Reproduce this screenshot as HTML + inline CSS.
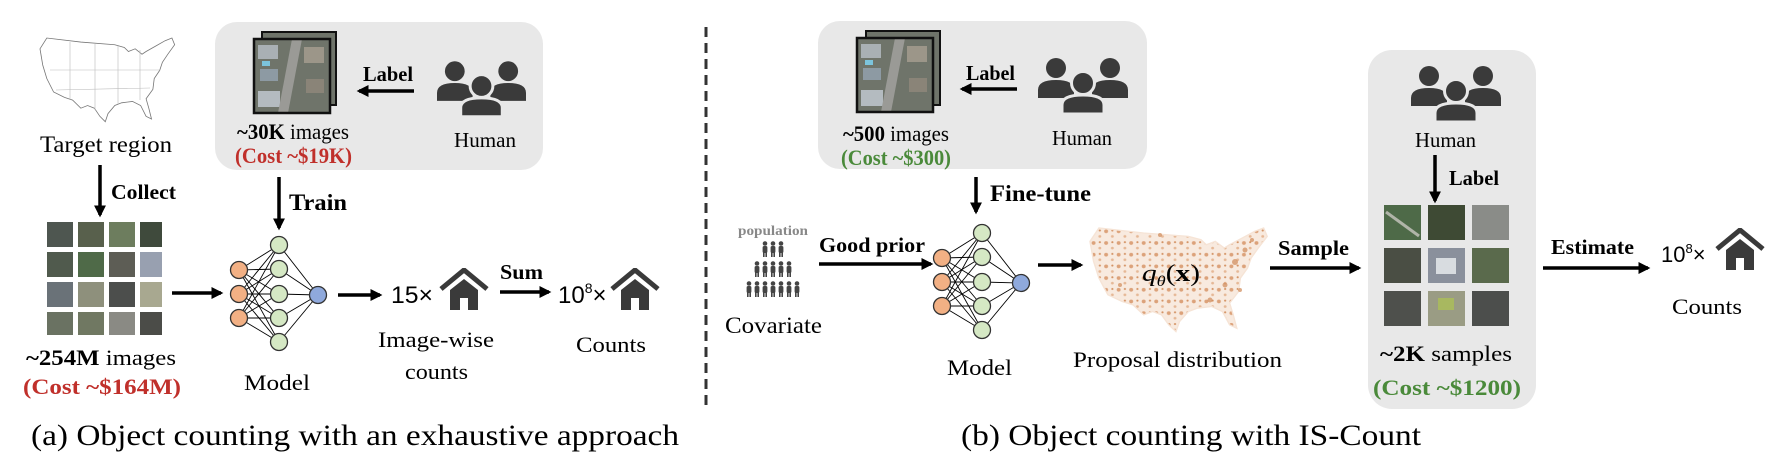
<!DOCTYPE html>
<html><head><meta charset="utf-8"><style>
html,body{margin:0;padding:0;background:#fff;}
svg{display:block;font-family:"Liberation Serif",serif;}
</style></head><body>
<svg width="1780" height="470" viewBox="0 0 1780 470" xmlns="http://www.w3.org/2000/svg">
<defs>
<marker id="ah" viewBox="0 0 10 10" refX="8" refY="5" markerWidth="3.4" markerHeight="3.4" orient="auto"><path d="M0,0 L10,5 L0,10 Z" fill="#000"/></marker>
<symbol id="human" viewBox="0 0 90 56">
<circle cx="18" cy="11" r="10" fill="#3a3a3a"/>
<circle cx="72" cy="11" r="10" fill="#3a3a3a"/>
<path d="M0,41 L0,33 Q0,23 18,23 Q36,23 36,33 L36,41 Z" fill="#3a3a3a"/>
<path d="M54,41 L54,33 Q54,23 72,23 Q90,23 90,33 L90,41 Z" fill="#3a3a3a"/>
<circle cx="45" cy="26" r="11.5" fill="#3a3a3a" stroke="#e8e8e8" stroke-width="3"/>
<path d="M24,57 L24,48 Q24,38 45,38 Q66,38 66,48 L66,57 Z" fill="#3a3a3a" stroke="#e8e8e8" stroke-width="3"/>
</symbol>
<symbol id="house" viewBox="0 0 50 42">
<polyline points="2,21 25,2 48,21" fill="none" stroke="#3a3a3a" stroke-width="5"/>
<path d="M11,22 L25,11 L39,22 V42 H29 V30 H21 V42 H11 Z" fill="#3a3a3a"/>
</symbol>
<g id="net">
<g stroke="#000" stroke-width="0.9">
<line x1="0" y1="-24" x2="40" y2="-49"/><line x1="0" y1="-24" x2="40" y2="-25"/><line x1="0" y1="-24" x2="40" y2="0"/><line x1="0" y1="-24" x2="40" y2="24"/><line x1="0" y1="-24" x2="40" y2="48"/>
<line x1="0" y1="0" x2="40" y2="-49"/><line x1="0" y1="0" x2="40" y2="-25"/><line x1="0" y1="0" x2="40" y2="0"/><line x1="0" y1="0" x2="40" y2="24"/><line x1="0" y1="0" x2="40" y2="48"/>
<line x1="0" y1="24" x2="40" y2="-49"/><line x1="0" y1="24" x2="40" y2="-25"/><line x1="0" y1="24" x2="40" y2="0"/><line x1="0" y1="24" x2="40" y2="24"/><line x1="0" y1="24" x2="40" y2="48"/>
<line x1="40" y1="-49" x2="79" y2="1"/><line x1="40" y1="-25" x2="79" y2="1"/><line x1="40" y1="0" x2="79" y2="1"/><line x1="40" y1="24" x2="79" y2="1"/><line x1="40" y1="48" x2="79" y2="1"/>
</g>
<g stroke="#333" stroke-width="1.3">
<circle cx="0" cy="-24" r="8.5" fill="#f2b084"/><circle cx="0" cy="0" r="8.5" fill="#f2b084"/><circle cx="0" cy="24" r="8.5" fill="#f2b084"/>
<circle cx="40" cy="-49" r="8.5" fill="#d5e8c4"/><circle cx="40" cy="-25" r="8.5" fill="#d5e8c4"/><circle cx="40" cy="0" r="8.5" fill="#d5e8c4"/><circle cx="40" cy="24" r="8.5" fill="#d5e8c4"/><circle cx="40" cy="48" r="8.5" fill="#d5e8c4"/>
<circle cx="79" cy="1" r="8.5" fill="#8fa9dc"/>
</g>
</g>
<g id="aerial">
<rect x="0" y="0" width="76" height="74" fill="#6f746a"/>
<rect x="4" y="6" width="20" height="14" fill="#a9b0b4"/>
<rect x="6" y="30" width="18" height="12" fill="#8d9aa3"/>
<rect x="4" y="52" width="22" height="16" fill="#b4bbc0"/>
<rect x="50" y="8" width="20" height="16" fill="#9c9689"/>
<rect x="52" y="40" width="18" height="14" fill="#8a8478"/>
<polygon points="38,0 48,0 34,74 24,74" fill="#9a9a96"/>
<rect x="8" y="22" width="8" height="5" fill="#7cc4dc"/>
</g>
<g id="us"><polygon points="0,8 5,0 30,3 55,5 62,7 65,10 70,8 75,12 78,10 85,6 92,2 97,0 99,5 94,12 90,18 88,24 84,30 83,38 78,45 80,52 82,60 78,58 74,50 68,47 60,48 55,50 50,56 48,62 44,58 40,52 35,50 30,52 24,46 18,44 10,40 5,30 2,20"/></g>
<pattern id="dots" width="7" height="7" patternUnits="userSpaceOnUse"><rect width="7" height="7" fill="#f8eadf"/><circle cx="2" cy="2" r="1.1" fill="#dca27a"/><circle cx="5.5" cy="5" r="0.8" fill="#e6b896"/><circle cx="5.5" cy="1.5" r="0.6" fill="#d49364"/></pattern>
<g id="person"><circle cx="3" cy="2.5" r="2.3" fill="#444"/><rect x="0.6" y="5" width="4.8" height="7" rx="1.5" fill="#444"/><rect x="1" y="11" width="1.6" height="5" fill="#444"/><rect x="3.4" y="11" width="1.6" height="5" fill="#444"/></g>
</defs>

<!-- ===== LEFT (a) ===== -->
<g transform="translate(40,38) scale(1.36,1.35)"><use href="#us" fill="#fff" stroke="#777" stroke-width="0.6"/></g>
<g stroke="#bbb" stroke-width="0.6" fill="none">
<line x1="70" y1="42" x2="70" y2="100"/><line x1="95" y1="44" x2="95" y2="110"/><line x1="118" y1="46" x2="118" y2="104"/><line x1="50" y1="70" x2="160" y2="70"/><line x1="56" y1="90" x2="150" y2="88"/><line x1="140" y1="50" x2="140" y2="100"/>
</g>
<text x="40" y="152" font-size="23" textLength="132" lengthAdjust="spacingAndGlyphs">Target region</text>
<line x1="100" y1="165" x2="100" y2="215" stroke="#000" stroke-width="3.5" marker-end="url(#ah)"/>
<text x="111" y="199" font-size="21" font-weight="bold" textLength="65" lengthAdjust="spacingAndGlyphs">Collect</text>
<g>
<rect x="47" y="222" width="26" height="25" fill="#4e5650"/><rect x="78" y="222" width="26" height="25" fill="#58604c"/><rect x="109" y="222" width="26" height="25" fill="#6d7d5e"/><rect x="140" y="222" width="22" height="25" fill="#3f4a3c"/>
<rect x="47" y="252" width="26" height="25" fill="#505a4d"/><rect x="78" y="252" width="26" height="25" fill="#4f6a48"/><rect x="109" y="252" width="26" height="25" fill="#5d5d55"/><rect x="140" y="252" width="22" height="25" fill="#98a0b0"/>
<rect x="47" y="282" width="26" height="25" fill="#6a7278"/><rect x="78" y="282" width="26" height="25" fill="#8e907c"/><rect x="109" y="282" width="26" height="25" fill="#4c4e4c"/><rect x="140" y="282" width="22" height="25" fill="#a8a890"/>
<rect x="47" y="312" width="26" height="23" fill="#6a7262"/><rect x="78" y="312" width="26" height="23" fill="#707862"/><rect x="109" y="312" width="26" height="23" fill="#8a8a84"/><rect x="140" y="312" width="22" height="23" fill="#4b4c48"/>
</g>
<text x="26" y="365" font-size="22" textLength="150" lengthAdjust="spacingAndGlyphs"><tspan font-weight="bold">~254M</tspan> images</text>
<text x="23" y="394" font-size="22" font-weight="bold" fill="#c0302b" textLength="158" lengthAdjust="spacingAndGlyphs">(Cost ~$164M)</text>

<rect x="215" y="22" width="328" height="148" rx="22" fill="#e8e8e8"/>
<rect x="262" y="32" width="74" height="73" fill="#6f746a" stroke="#111" stroke-width="2"/>
<g transform="translate(254,39)"><use href="#aerial"/><rect x="0" y="0" width="76" height="74" fill="none" stroke="#111" stroke-width="2.5"/></g>
<text x="363" y="81" font-size="21" font-weight="bold" textLength="50" lengthAdjust="spacingAndGlyphs">Label</text>
<line x1="414" y1="91" x2="359" y2="91" stroke="#000" stroke-width="3.5" marker-end="url(#ah)"/>
<use href="#human" x="437" y="60" width="89" height="56"/>
<text x="454" y="147" font-size="21" textLength="62" lengthAdjust="spacingAndGlyphs">Human</text>
<text x="237" y="139" font-size="22" textLength="112" lengthAdjust="spacingAndGlyphs"><tspan font-weight="bold">~30K</tspan> images</text>
<text x="235" y="163" font-size="22" font-weight="bold" fill="#c0302b" textLength="117" lengthAdjust="spacingAndGlyphs">(Cost ~$19K)</text>

<line x1="279" y1="177" x2="279" y2="228" stroke="#000" stroke-width="3.5" marker-end="url(#ah)"/>
<text x="289" y="210" font-size="23" font-weight="bold" textLength="58" lengthAdjust="spacingAndGlyphs">Train</text>
<line x1="172" y1="293" x2="221" y2="293" stroke="#000" stroke-width="3.5" marker-end="url(#ah)"/>
<use href="#net" x="239" y="294"/>
<text x="244" y="390" font-size="22" textLength="66" lengthAdjust="spacingAndGlyphs">Model</text>
<line x1="338" y1="295" x2="380" y2="295" stroke="#000" stroke-width="3.5" marker-end="url(#ah)"/>
<text x="391" y="303" font-family="Liberation Sans, sans-serif" font-size="24" textLength="42" lengthAdjust="spacingAndGlyphs">15×</text>
<use href="#house" x="439" y="268" width="50" height="42"/>
<text x="378" y="347" font-size="22" textLength="116" lengthAdjust="spacingAndGlyphs">Image-wise</text>
<text x="405" y="379" font-size="22" textLength="63" lengthAdjust="spacingAndGlyphs">counts</text>
<text x="500" y="279" font-size="21" font-weight="bold" textLength="43" lengthAdjust="spacingAndGlyphs">Sum</text>
<line x1="500" y1="292" x2="549" y2="292" stroke="#000" stroke-width="3.5" marker-end="url(#ah)"/>
<text x="558" y="303" font-family="Liberation Sans, sans-serif" font-size="24">10<tspan font-size="14" dy="-10">8</tspan><tspan dy="10">×</tspan></text>
<use href="#house" x="610" y="268" width="50" height="42"/>
<text x="576" y="352" font-size="22" textLength="70" lengthAdjust="spacingAndGlyphs">Counts</text>
<text x="31" y="445" font-size="30" textLength="648" lengthAdjust="spacingAndGlyphs">(a) Object counting with an exhaustive approach</text>

<line x1="706" y1="27" x2="706" y2="407" stroke="#333" stroke-width="3" stroke-dasharray="10,6"/>

<!-- ===== RIGHT (b) ===== -->
<rect x="818" y="21" width="329" height="148" rx="22" fill="#e8e8e8"/>
<rect x="866" y="31" width="74" height="74" fill="#6f746a" stroke="#111" stroke-width="2"/>
<g transform="translate(857,38)"><use href="#aerial"/><rect x="0" y="0" width="76" height="74" fill="none" stroke="#111" stroke-width="2.5"/></g>
<text x="966" y="80" font-size="21" font-weight="bold" textLength="49" lengthAdjust="spacingAndGlyphs">Label</text>
<line x1="1017" y1="89" x2="962" y2="89" stroke="#000" stroke-width="3.5" marker-end="url(#ah)"/>
<use href="#human" x="1038" y="57" width="90" height="56"/>
<text x="1052" y="145" font-size="21" textLength="60" lengthAdjust="spacingAndGlyphs">Human</text>
<text x="843" y="141" font-size="22" textLength="106" lengthAdjust="spacingAndGlyphs"><tspan font-weight="bold">~500</tspan> images</text>
<text x="841" y="165" font-size="22" font-weight="bold" fill="#4a8a3a" textLength="110" lengthAdjust="spacingAndGlyphs">(Cost ~$300)</text>
<line x1="976" y1="177" x2="976" y2="212" stroke="#000" stroke-width="3.5" marker-end="url(#ah)"/>
<text x="990" y="201" font-size="23" font-weight="bold" textLength="101" lengthAdjust="spacingAndGlyphs">Fine-tune</text>

<text x="738" y="235" font-size="14" font-weight="bold" fill="#888" textLength="70" lengthAdjust="spacingAndGlyphs">population</text>
<g>
<use href="#person" x="762" y="241"/><use href="#person" x="770" y="241"/><use href="#person" x="778" y="241"/>
<use href="#person" x="754" y="261"/><use href="#person" x="762" y="261"/><use href="#person" x="770" y="261"/><use href="#person" x="778" y="261"/><use href="#person" x="786" y="261"/>
<use href="#person" x="746" y="281"/><use href="#person" x="754" y="281"/><use href="#person" x="762" y="281"/><use href="#person" x="770" y="281"/><use href="#person" x="778" y="281"/><use href="#person" x="786" y="281"/><use href="#person" x="794" y="281"/>
</g>
<text x="725" y="333" font-size="23" textLength="97" lengthAdjust="spacingAndGlyphs">Covariate</text>
<text x="819" y="252" font-size="21" font-weight="bold" textLength="106" lengthAdjust="spacingAndGlyphs">Good prior</text>
<line x1="819" y1="264" x2="931" y2="264" stroke="#000" stroke-width="3.5" marker-end="url(#ah)"/>
<use href="#net" x="942" y="282"/>
<text x="947" y="375" font-size="22" textLength="65" lengthAdjust="spacingAndGlyphs">Model</text>
<line x1="1038" y1="265" x2="1081" y2="265" stroke="#000" stroke-width="3.5" marker-end="url(#ah)"/>

<g transform="translate(1090,228) scale(1.79,1.67)"><use href="#us" fill="url(#dots)" stroke="#f6e4d6" stroke-width="0.8"/></g>
<g fill="#d08a58" opacity="0.7">
<circle cx="1235" cy="262" r="3"/><circle cx="1225" cy="285" r="2.5"/><circle cx="1245" cy="250" r="2.5"/><circle cx="1210" cy="300" r="2.5"/><circle cx="1240" cy="290" r="2"/><circle cx="1252" cy="240" r="2"/><circle cx="1120" cy="285" r="2"/><circle cx="1160" cy="235" r="2"/>
</g>
<text x="1142" y="281" font-size="24" textLength="58" lengthAdjust="spacingAndGlyphs"><tspan font-style="italic">q</tspan><tspan font-size="15" font-style="italic" dy="5">θ</tspan><tspan dy="-5">(</tspan><tspan font-weight="bold">x</tspan>)</text>
<text x="1073" y="367" font-size="22" textLength="209" lengthAdjust="spacingAndGlyphs">Proposal distribution</text>
<text x="1278" y="255" font-size="21" font-weight="bold" textLength="71" lengthAdjust="spacingAndGlyphs">Sample</text>
<line x1="1270" y1="268" x2="1359" y2="268" stroke="#000" stroke-width="3.5" marker-end="url(#ah)"/>

<rect x="1368" y="50" width="168" height="359" rx="24" fill="#e8e8e8"/>
<use href="#human" x="1411" y="65" width="90" height="56"/>
<text x="1415" y="147" font-size="21" textLength="61" lengthAdjust="spacingAndGlyphs">Human</text>
<line x1="1435" y1="155" x2="1435" y2="201" stroke="#000" stroke-width="3.5" marker-end="url(#ah)"/>
<text x="1449" y="185" font-size="21" font-weight="bold" textLength="50" lengthAdjust="spacingAndGlyphs">Label</text>
<g>
<rect x="1384" y="205" width="37" height="35" fill="#4e6a48"/><rect x="1428" y="205" width="37" height="35" fill="#3e4a34"/><rect x="1472" y="205" width="37" height="35" fill="#8a8c88"/>
<rect x="1384" y="248" width="37" height="35" fill="#4a4e44"/><rect x="1428" y="248" width="37" height="35" fill="#8a909c"/><rect x="1472" y="248" width="37" height="35" fill="#5a6a4c"/>
<rect x="1384" y="291" width="37" height="35" fill="#4e504c"/><rect x="1428" y="291" width="37" height="35" fill="#9a9c84"/><rect x="1472" y="291" width="37" height="35" fill="#4c4e4c"/>
<line x1="1386" y1="212" x2="1419" y2="236" stroke="#b0b4a8" stroke-width="3"/>
<rect x="1436" y="258" width="20" height="16" fill="#d8dce0"/>
<rect x="1438" y="298" width="16" height="12" fill="#a8b860"/>
</g>
<text x="1380" y="361" font-size="22" textLength="132" lengthAdjust="spacingAndGlyphs"><tspan font-weight="bold">~2K</tspan> samples</text>
<text x="1373" y="395" font-size="22" font-weight="bold" fill="#4a8a3a" textLength="148" lengthAdjust="spacingAndGlyphs">(Cost ~$1200)</text>

<text x="1551" y="254" font-size="21" font-weight="bold" textLength="83" lengthAdjust="spacingAndGlyphs">Estimate</text>
<line x1="1543" y1="268" x2="1648" y2="268" stroke="#000" stroke-width="3.5" marker-end="url(#ah)"/>
<text x="1661" y="262" font-family="Liberation Sans, sans-serif" font-size="22">10<tspan font-size="13" dy="-9">8</tspan><tspan dy="9">×</tspan></text>
<use href="#house" x="1715" y="228" width="50" height="42"/>
<text x="1672" y="314" font-size="22" textLength="70" lengthAdjust="spacingAndGlyphs">Counts</text>
<text x="961" y="445" font-size="30" textLength="460" lengthAdjust="spacingAndGlyphs">(b) Object counting with IS-Count</text>
</svg>
</body></html>
